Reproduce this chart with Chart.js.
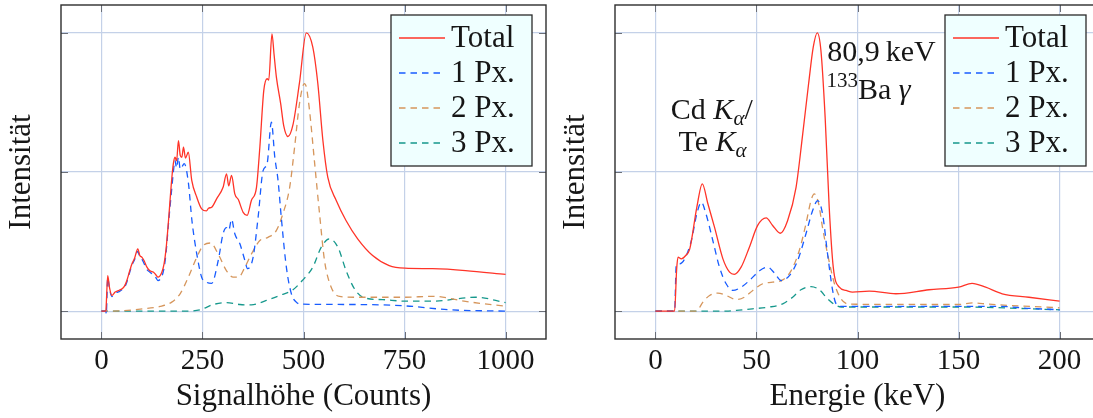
<!DOCTYPE html>
<html>
<head>
<meta charset="utf-8">
<script src="https://cdn.jsdelivr.net/npm/chart.js@4/dist/chart.umd.min.js"></script>
<style>
  html, body { margin: 0; padding: 0; background: #fff; overflow: hidden; width: 1093px; height: 418px; }
  .panel { position: absolute; top: 0; width: 560px; height: 418px; }
</style>
</head>
<body>
<div class="panel" style="left:0"><canvas id="countsChart" width="560" height="418"></canvas></div>
<div class="panel" style="left:554px"><canvas id="energyChart" width="560" height="418"></canvas></div>
<script>
// ---- axis ticks ----
const countsTicks = [0, 250, 500, 750, 1000];
const energyTicks = [0, 50, 100, 150, 200];
const intensityTicks = [0, 1, 2];

const seriesLabels = ['Total', '1 Px.', '2 Px.', '3 Px.'];

// ---- left panel: Signalhöhe (Counts) ----
const totalCountsX = [0, 11, 12, 15.6, 20, 26, 34, 44, 51, 57, 63, 70, 75.6, 82, 90, 95, 100, 106, 112.6, 120, 129, 135, 140, 149.5, 155, 160, 166, 174, 178, 182, 186, 190.6, 195, 199, 203, 208, 215, 223.5, 235.8, 248, 260, 265, 272.8, 285, 301, 309.6, 315, 322, 330, 339, 350.7, 360.5, 371, 383.7, 392, 401.7, 410, 414, 422, 427, 433, 443.6, 451, 461.6, 474, 490, 507, 523, 535.5, 548, 560, 581, 605.5, 634, 671, 712, 751, 819, 901, 1000];
const totalCountsY = [0, 0, 0.05, 0.256, 0.17, 0.113, 0.137, 0.15, 0.161, 0.18, 0.22, 0.29, 0.34, 0.38, 0.448, 0.40, 0.388, 0.36, 0.316, 0.29, 0.28, 0.26, 0.244, 0.28, 0.34, 0.448, 0.65, 0.95, 1.06, 1.106, 1.08, 1.226, 1.12, 1.106, 1.178, 1.10, 1.142, 0.94, 0.82, 0.735, 0.72, 0.74, 0.747, 0.807, 0.89, 0.987, 0.90, 0.975, 0.843, 0.80, 0.71, 0.688, 0.795, 0.89, 1.178, 1.585, 1.67, 1.66, 1.993, 1.85, 1.68, 1.49, 1.334, 1.255, 1.34, 1.64, 2.0, 1.897, 1.634, 1.226, 0.963, 0.795, 0.65, 0.52, 0.40, 0.328, 0.309, 0.305, 0.292, 0.264];

const onePxCountsX = [0, 11, 12, 15.6, 20, 26, 34, 44, 51, 57, 63, 70, 75.6, 82, 90, 95, 100, 106, 112.6, 120, 129, 135, 140, 149.5, 155, 160, 166, 174, 178, 182, 186, 190.6, 195, 199, 205, 215, 224, 236, 248, 260, 272.8, 289, 301, 309.6, 315, 322, 330, 342.6, 355, 361.7, 375.4, 387.7, 400, 410, 420.6, 429, 437, 445, 457.6, 470, 482, 497, 613, 751, 860, 1000];
const onePxCountsY = [0, 0, -0.02, 0.24, 0.16, 0.105, 0.13, 0.14, 0.155, 0.17, 0.21, 0.28, 0.33, 0.37, 0.43, 0.39, 0.375, 0.34, 0.30, 0.28, 0.26, 0.24, 0.22, 0.25, 0.31, 0.42, 0.63, 0.88, 1.0, 1.083, 1.03, 1.106, 1.02, 1.035, 1.06, 0.927, 0.65, 0.41, 0.244, 0.208, 0.20, 0.364, 0.556, 0.60, 0.58, 0.66, 0.556, 0.484, 0.364, 0.305, 0.388, 0.675, 1.01, 1.06, 1.358, 1.106, 0.94, 0.675, 0.316, 0.125, 0.065, 0.05, 0.048, 0.038, 0.01, 0.0];

const twoPxCountsX = [0, 50, 96, 145, 174, 194.7, 215, 236, 252, 270, 289, 309.6, 326, 339, 355, 371, 392, 412, 433, 449, 465.8, 478, 490, 502, 507, 515, 527, 539.7, 552, 568.5, 589, 630, 751, 819, 901, 1000];
const twoPxCountsY = [0, 0.003, 0.015, 0.034, 0.065, 0.125, 0.244, 0.388, 0.472, 0.49, 0.41, 0.29, 0.244, 0.244, 0.316, 0.41, 0.508, 0.53, 0.58, 0.70, 0.89, 1.178, 1.49, 1.635, 1.61, 1.44, 1.08, 0.70, 0.364, 0.172, 0.106, 0.10, 0.10, 0.107, 0.07, 0.035];

const threePxCountsX = [0, 200, 244, 277, 309.6, 342.6, 371, 408, 441, 474, 497, 523, 544, 564, 585, 605.5, 626, 650.6, 695.6, 751, 819, 926, 1000];
const threePxCountsY = [0, 0, 0.01, 0.048, 0.062, 0.048, 0.045, 0.077, 0.113, 0.154, 0.22, 0.316, 0.46, 0.52, 0.46, 0.29, 0.161, 0.096, 0.083, 0.072, 0.072, 0.10, 0.062];

// ---- right panel: Energie (keV) ----
const totalEnergyX = [0, 9.5, 10.5, 11.2, 12.8, 15, 17, 20.5, 23.2, 26, 29.3, 33.4, 36.7, 39, 42.4, 46.5, 50.6, 54.8, 58, 61.8, 65.4, 69.6, 72.9, 75.8, 78.1, 80.1, 81.9, 84, 86, 88, 91, 94.3, 97.5, 105.8, 119, 135.4, 150, 156.7, 163.4, 171.6, 184.8, 200];
const totalEnergyY = [0, 0, 0.30, 0.388, 0.376, 0.40, 0.448, 0.747, 0.915, 0.77, 0.60, 0.376, 0.28, 0.264, 0.316, 0.46, 0.616, 0.67, 0.616, 0.56, 0.65, 0.89, 1.274, 1.634, 1.897, 2.0, 1.873, 1.39, 0.747, 0.316, 0.172, 0.149, 0.137, 0.144, 0.125, 0.154, 0.172, 0.20, 0.172, 0.125, 0.10, 0.072];

const onePxEnergyX = [0, 9.5, 10.3, 12, 14.5, 17.8, 20.5, 22.7, 25, 28.4, 31.7, 35, 38.3, 42.4, 46.5, 51.5, 55.6, 58.9, 62.2, 66.3, 70.4, 74.5, 77.8, 80.3, 82.7, 85.2, 87.7, 89.5, 92, 170, 185, 200];
const onePxEnergyY = [0, 0, 0.33, 0.34, 0.376, 0.508, 0.70, 0.783, 0.70, 0.508, 0.316, 0.197, 0.149, 0.172, 0.22, 0.29, 0.316, 0.274, 0.22, 0.256, 0.364, 0.556, 0.723, 0.795, 0.70, 0.41, 0.149, 0.05, 0.034, 0.034, 0.02, 0.01];

const twoPxEnergyX = [0, 20.2, 23.5, 26.8, 30.9, 35, 40, 44, 48.2, 53.1, 58, 63, 67.1, 71.2, 74.5, 77, 78.6, 80.8, 82.7, 85.2, 88.6, 91.8, 96, 150, 157, 165, 200];
const twoPxEnergyY = [0, 0, 0.065, 0.113, 0.13, 0.113, 0.083, 0.10, 0.149, 0.197, 0.208, 0.225, 0.29, 0.436, 0.628, 0.795, 0.843, 0.77, 0.60, 0.41, 0.197, 0.089, 0.05, 0.048, 0.06, 0.05, 0.024];

const threePxEnergyX = [0, 35, 40, 48, 56.2, 63, 67.9, 72, 77, 81.1, 85.2, 88.6, 92, 150, 200];
const threePxEnergyY = [0, 0, 0.005, 0.017, 0.029, 0.053, 0.10, 0.154, 0.177, 0.154, 0.089, 0.048, 0.03, 0.03, 0.01];

// ---- styling ----
const FONT = "'Liberation Serif', 'Times New Roman', 'DejaVu Serif', serif";
const TEXT = '#161616';
const GRID = '#c4d1e8';
const colors = ['rgb(255, 52, 40)', 'rgb(24, 92, 255)', 'rgb(214, 150, 92)', 'rgb(22, 152, 140)'];
const dashes = [[], [6.5, 5], [6.5, 5], [6.5, 5]];

Chart.defaults.font.family = FONT;

const frame = {
  id: 'frame',
  afterDraw(chart) {
    const { ctx, chartArea: a, scales } = chart;
    ctx.save();
    ctx.strokeStyle = '#6b6f78';
    ctx.lineWidth = 1;
    ctx.beginPath();
    scales.x.ticks.forEach(t => {
      const px = Math.round(scales.x.getPixelForValue(t.value)) + 0.5;
      ctx.moveTo(px, a.bottom); ctx.lineTo(px, a.bottom - 7);
      ctx.moveTo(px, a.top); ctx.lineTo(px, a.top + 7);
    });
    scales.y.ticks.forEach(t => {
      const py = Math.round(scales.y.getPixelForValue(t.value)) + 0.5;
      ctx.moveTo(a.left, py); ctx.lineTo(a.left + 7, py);
      ctx.moveTo(a.right, py); ctx.lineTo(a.right - 7, py);
    });
    ctx.stroke();
    ctx.strokeStyle = '#2e2e2e';
    ctx.lineWidth = 1.4;
    ctx.strokeRect(a.left, a.top, a.width, a.height);

    // legend box, top right inside the plot
    const bx = a.right - 155, by = a.top + 10, bw = 141, bh = 151;
    ctx.fillStyle = 'rgb(239, 255, 255)';
    ctx.fillRect(bx, by, bw, bh);
    ctx.strokeStyle = '#2a2a2a';
    ctx.lineWidth = 1.3;
    ctx.strokeRect(bx, by, bw, bh);
    ctx.font = '31px ' + FONT;
    ctx.textBaseline = 'alphabetic';
    ctx.textAlign = 'left';
    chart.data.datasets.forEach((ds, i) => {
      const ly = by + 23 + i * 35;
      ctx.strokeStyle = ds.borderColor;
      ctx.lineWidth = 1.3;
      ctx.setLineDash(ds.borderDash);
      ctx.beginPath();
      ctx.moveTo(bx + 8, ly); ctx.lineTo(bx + 54, ly);
      ctx.stroke();
      ctx.setLineDash([]);
      ctx.fillStyle = TEXT;
      ctx.fillText(ds.label, bx + 60, ly + 9);
    });
    ctx.restore();
  }
};

// mixed text runs: {t, it, sub, sup}
function drawRuns(ctx, runs, x, y, align) {
  const fontOf = r => (r.it ? 'italic ' : '') + ((r.sub || r.sup) ? '21px ' : '30px ') + FONT;
  let w = 0;
  runs.forEach(r => { ctx.font = fontOf(r); w += ctx.measureText(r.t).width; });
  let cx = align === 'center' ? x - w / 2 : x;
  runs.forEach(r => {
    ctx.font = fontOf(r);
    const dy = r.sub ? 6 : (r.sup ? -12 : 0);
    ctx.fillText(r.t, cx, y + dy);
    cx += ctx.measureText(r.t).width;
  });
}

const notes = [
  { x: 27.9, y: 1.384, align: 'center', runs: [{ t: 'Cd ' }, { t: 'K', it: 1 }, { t: 'α', it: 1, sub: 1 }, { t: '/' }] },
  { x: 28.3, y: 1.154, align: 'center', runs: [{ t: 'Te ' }, { t: 'K', it: 1 }, { t: 'α', it: 1, sub: 1 }] },
  { x: 85.0, y: 1.80, align: 'left', runs: [{ t: '80,9\u2009keV' }] },
  { x: 84.6, y: 1.525, align: 'left', runs: [{ t: '133', sup: 1 }, { t: 'Ba ' }, { t: 'γ', it: 1 }] }
];

const annotate = {
  id: 'annotate',
  afterDraw(chart, args, opts) {
    if (!opts.items) return;
    const { ctx, scales } = chart;
    ctx.save();
    ctx.fillStyle = TEXT;
    ctx.textBaseline = 'alphabetic';
    ctx.textAlign = 'left';
    opts.items.forEach(n => {
      drawRuns(ctx, n.runs, scales.x.getPixelForValue(n.x), scales.y.getPixelForValue(n.y), n.align);
    });
    ctx.restore();
  }
};

function makeChart(id, xs, ys, xMin, xMax, xTicks, xTitle, items) {
  const tickFont = { family: FONT, size: 29 };
  const titleFont = { family: FONT, size: 31 };
  return new Chart(document.getElementById(id), {
    type: 'line',
    data: {
      datasets: seriesLabels.map((label, i) => ({
        label: label,
        data: xs[i].map((x, j) => ({ x: x, y: ys[i][j] })),
        order: i, // Total drawn on top
        borderColor: colors[i],
        borderWidth: 1.3,
        borderDash: dashes[i],
        pointRadius: 0,
        fill: false,
        cubicInterpolationMode: 'monotone'
      }))
    },
    options: {
      responsive: false,
      animation: false,
      devicePixelRatio: 1,
      layout: { padding: { top: 5, right: 14, left: 0, bottom: 0 } },
      plugins: {
        legend: { display: false },
        tooltip: { enabled: false },
        annotate: { items: items }
      },
      scales: {
        x: {
          type: 'linear',
          min: xMin,
          max: xMax,
          afterBuildTicks: s => { s.ticks = xTicks.map(v => ({ value: v })); },
          afterFit: s => { s.height = 79; },
          grid: { color: GRID, lineWidth: 1.2, drawTicks: false },
          border: { display: false },
          ticks: { padding: 5, font: tickFont, color: TEXT, maxRotation: 0, autoSkip: false, callback: v => String(v) },
          title: { display: true, text: xTitle, font: titleFont, color: TEXT, padding: { top: 0, bottom: 2.4 } }
        },
        y: {
          min: -0.2,
          max: 2.2,
          afterBuildTicks: s => { s.ticks = intensityTicks.map(v => ({ value: v })); },
          afterFit: s => { s.width = 61; },
          grid: { color: GRID, lineWidth: 1.2, drawTicks: false },
          border: { display: false },
          ticks: { display: false },
          title: { display: true, text: 'Intensität', font: titleFont, color: TEXT, padding: { top: 3.1, bottom: 0 } }
        }
      }
    },
    plugins: [frame, annotate]
  });
}

makeChart('countsChart',
  [totalCountsX, onePxCountsX, twoPxCountsX, threePxCountsX],
  [totalCountsY, onePxCountsY, twoPxCountsY, threePxCountsY],
  -100, 1100, countsTicks, 'Signalhöhe (Counts)', null);

makeChart('energyChart',
  [totalEnergyX, onePxEnergyX, twoPxEnergyX, threePxEnergyX],
  [totalEnergyY, onePxEnergyY, twoPxEnergyY, threePxEnergyY],
  -20, 220, energyTicks, 'Energie (keV)', notes);
</script>
</body>
</html>
